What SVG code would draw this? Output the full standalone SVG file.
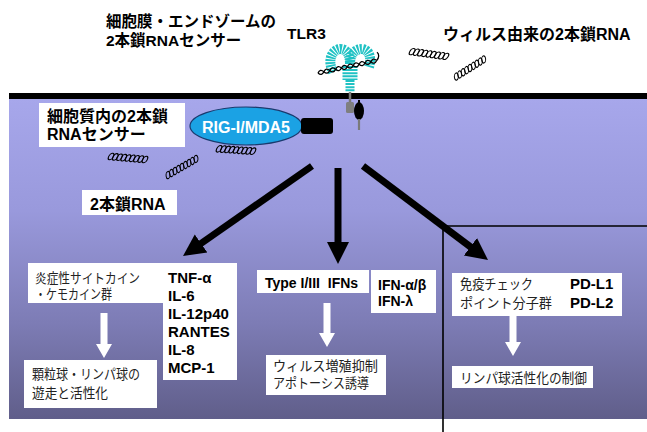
<svg xmlns="http://www.w3.org/2000/svg" xmlns:xlink="http://www.w3.org/1999/xlink" width="647" height="432" viewBox="0 0 647 432">
  <style>
    .jb { font-family: "Liberation Sans", "Noto Sans CJK JP", sans-serif; font-weight: bold; fill: #000; }
    .jr { font-family: "Liberation Sans", "Noto Sans CJK JP", sans-serif; font-weight: normal; fill: #222; font-size: 13.5px; }
    .lst { font-family: "Liberation Sans", "Noto Sans CJK JP", sans-serif; font-weight: bold; fill: #000; font-size: 15px; }
    .box { fill: #fff; }
    .big { stroke: #000; stroke-width: 7; fill: none; }
    .warr { fill: #fff; }
    .coil ellipse { fill: none; stroke: #000; stroke-width: 1.1; }
    .rna { fill: none; stroke: #000; stroke-width: 1.3; }
    .lrr { fill: none; stroke: #1fc2c4; stroke-dasharray: 1.8 1; }
  </style>
  <defs>
    <linearGradient id="cyto" x1="0" y1="0" x2="0" y2="1">
      <stop offset="0" stop-color="#a7a7eb"/>
      <stop offset="0.35" stop-color="#9999dc"/>
      <stop offset="0.7" stop-color="#7d7cb5"/>
      <stop offset="1" stop-color="#605e8a"/>
    </linearGradient>
    <marker id="head" markerUnits="userSpaceOnUse" markerWidth="24" markerHeight="24" viewBox="0 -12 24 24" refX="8" refY="0" orient="auto">
      <path d="M0,-11 L22,0 L0,11 Z" fill="#000"/>
    </marker>
    <!-- single-stranded RNA coil -->
    <g id="coil" class="coil">
      <g transform="skewX(-20)">
        <ellipse cx="-17" cy="0" rx="2.3" ry="3.4"/>
        <ellipse cx="-12.75" cy="0" rx="2.3" ry="3.4"/>
        <ellipse cx="-8.5" cy="0" rx="2.3" ry="3.4"/>
        <ellipse cx="-4.25" cy="0" rx="2.3" ry="3.4"/>
        <ellipse cx="0" cy="0" rx="2.3" ry="3.4"/>
        <ellipse cx="4.25" cy="0" rx="2.3" ry="3.4"/>
        <ellipse cx="8.5" cy="0" rx="2.3" ry="3.4"/>
        <ellipse cx="12.75" cy="0" rx="2.3" ry="3.4"/>
        <ellipse cx="17" cy="0" rx="2.3" ry="3.4"/>
      </g>
    </g>
  </defs>

  <!-- cytoplasm and membrane -->
  <rect x="9" y="98" width="638" height="321" fill="url(#cyto)"/>
  <rect x="9" y="93" width="638" height="6" fill="#000"/>

  <!-- compartment outline on the right -->
  <path d="M443,432 V226 H647" fill="none" stroke="#000" stroke-width="1.6"/>

  <!-- headings outside the cell -->
  <g id="membrane-sensor-label">
    <text class="jb" x="106" y="27" font-size="15.5">細胞膜・エンドゾームの</text>
    <text class="jb" x="106" y="46" font-size="15.5">2本鎖RNAセンサー</text>
  </g>
  <g id="tlr3-label">
    <text class="jb" x="287" y="39" font-size="15.5">TLR3</text>
  </g>
  <g id="viral-rna-label">
    <text class="jb" x="443" y="40" font-size="16">ウィルス由来の2本鎖RNA</text>
  </g>

  <!-- TLR3 receptor: two leucine-rich-repeat lobes on a ribbed stem -->
  <g id="tlr3">
    <path class="lrr" stroke-width="10" d="M333,72 C327,60 332,50 340,49 C347,49 350,55 350,64"/>
    <path class="lrr" stroke-width="10" d="M350,64 C350,54 355,49 362,49 C369,50 372,57 369,67"/>
    <line x1="350" y1="66" x2="350" y2="80" stroke="#1fc2c4" stroke-width="15" stroke-dasharray="2 1.1"/>
    <line x1="350" y1="80" x2="350" y2="92" stroke="#1fc2c4" stroke-width="9" stroke-dasharray="2 1.1"/>
    <line x1="350" y1="92" x2="350" y2="103" stroke="#7a7a7a" stroke-width="2.5"/>
    <rect x="346" y="102" width="8" height="11" rx="1.5" fill="#7f7f7f"/>
    <line x1="359" y1="100" x2="359" y2="104" stroke="#000" stroke-width="2"/>
    <ellipse cx="359" cy="111" rx="5" ry="9" fill="#000"/>
    <line x1="359" y1="119" x2="359" y2="130" stroke="#7a7a7a" stroke-width="2.2"/>
  </g>

  <!-- double-stranded RNA bound to TLR3 -->
  <g id="dsrna-tlr3" transform="translate(318,73) rotate(-12)">
    <path class="rna" d="M0,0 Q3,-4 6,0 T12,0 T18,0 T24,0 T30,0 T36,0 T42,0 T48,0 T54,0 T60,0"/>
    <path class="rna" d="M0,0 Q3,4 6,0 T12,0 T18,0 T24,0 T30,0 T36,0 T42,0 T48,0 T54,0 T60,0"/>
    <path class="rna" d="M60,0 C63,-2 64,-6 62,-8"/>
  </g>

  <!-- free RNA coils -->
  <use xlink:href="#coil" href="#coil" transform="translate(429,54) rotate(8)"/>
  <use xlink:href="#coil" href="#coil" transform="translate(470,68) rotate(-32) scale(0.95)"/>
  <use xlink:href="#coil" href="#coil" transform="translate(128,158) rotate(5)"/>
  <use xlink:href="#coil" href="#coil" transform="translate(182,167) rotate(-30) scale(0.95)"/>
  <use xlink:href="#coil" href="#coil" transform="translate(236,150) rotate(4)"/>

  <!-- cytosolic sensor label -->
  <g id="cytosolic-sensor-label">
    <rect class="box" x="39" y="103" width="146" height="44"/>
    <text class="jb" x="47" y="122" font-size="16">細胞質内の2本鎖</text>
    <text class="jb" x="47" y="140" font-size="16">RNAセンサー</text>
  </g>

  <!-- RIG-I / MDA5 -->
  <g id="rig-i-mda5">
    <ellipse cx="246" cy="126" rx="56" ry="19" fill="#1ba2e4" stroke="#1a3a6e" stroke-width="1.2"/>
    <text x="246" y="133" text-anchor="middle" font-family="Liberation Sans, sans-serif" font-weight="bold" font-size="16" fill="#fff">RIG-I/MDA5</text>
    <rect x="301" y="118" width="32" height="16" rx="3" fill="#000"/>
  </g>

  <g id="dsrna-label">
    <rect class="box" x="82" y="190" width="95" height="25"/>
    <text class="jb" x="90" y="210" font-size="16">2本鎖RNA</text>
  </g>

  <!-- signalling arrows -->
  <g id="connectors">
    <line class="big" x1="312" y1="166" x2="194.5" y2="248" marker-end="url(#head)"/>
    <line class="big" x1="338" y1="168" x2="338" y2="250" marker-end="url(#head)"/>
    <line class="big" x1="363" y1="166" x2="476.8" y2="251.6" marker-end="url(#head)"/>
    <polygon class="warr" points="100.5,313 107.5,313 107.5,344 112,344 104,358 96,344 100.5,344"/>
    <polygon class="warr" points="323.5,303 330.5,303 330.5,333 335,333 327,347 319,333 323.5,333"/>
    <polygon class="warr" points="509.5,316 516.5,316 516.5,342 521,342 513,356 505,342 509.5,342"/>
  </g>

  <!-- inflammatory branch -->
  <g id="cytokines">
    <rect class="box" x="28" y="263" width="209" height="40"/>
    <rect class="box" x="163" y="263" width="74" height="117"/>
    <text class="jr" x="35" y="283" textLength="105" lengthAdjust="spacingAndGlyphs">炎症性サイトカイン</text>
    <text class="jr" x="35" y="299" textLength="77" lengthAdjust="spacingAndGlyphs">・ケモカイン群</text>
    <text class="lst" x="168" y="283">TNF-α</text>
    <text class="lst" x="168" y="301">IL-6</text>
    <text class="lst" x="168" y="319">IL-12p40</text>
    <text class="lst" x="168" y="337">RANTES</text>
    <text class="lst" x="168" y="355">IL-8</text>
    <text class="lst" x="168" y="373">MCP-1</text>
  </g>
  <g id="leukocyte-recruitment">
    <rect class="box" x="24" y="360" width="133" height="48"/>
    <text class="jr" x="32" y="379" textLength="108" lengthAdjust="spacingAndGlyphs">顆粒球・リンパ球の</text>
    <text class="jr" x="32" y="398" textLength="76" lengthAdjust="spacingAndGlyphs">遊走と活性化</text>
  </g>

  <!-- interferon branch -->
  <g id="ifn-type">
    <rect class="box" x="257" y="270" width="112" height="23"/>
    <text class="jb" x="265" y="288" font-size="14" style="white-space:pre">Type I/III  IFNs</text>
  </g>
  <g id="ifn-list">
    <rect class="box" x="371" y="270" width="65" height="43"/>
    <text class="jb" x="378" y="290" font-size="14">IFN-α/β</text>
    <text class="jb" x="378" y="306" font-size="14">IFN-λ</text>
  </g>
  <g id="antiviral-effect">
    <rect class="box" x="266" y="355" width="120" height="40"/>
    <text class="jr" x="273" y="371" textLength="105" lengthAdjust="spacingAndGlyphs">ウィルス増殖抑制</text>
    <text class="jr" x="273" y="388" textLength="96" lengthAdjust="spacingAndGlyphs">アポトーシス誘導</text>
  </g>

  <!-- checkpoint branch -->
  <g id="checkpoint">
    <rect class="box" x="452" y="273" width="170" height="43"/>
    <text class="jr" x="460" y="289" textLength="73" lengthAdjust="spacingAndGlyphs">免疫チェック</text>
    <text class="jr" x="460" y="308" textLength="92" lengthAdjust="spacingAndGlyphs">ポイント分子群</text>
    <text class="lst" x="570" y="289">PD-L1</text>
    <text class="lst" x="570" y="308">PD-L2</text>
  </g>
  <g id="lymphocyte-control">
    <rect class="box" x="452" y="366" width="141" height="22"/>
    <text class="jr" x="460" y="383" textLength="127" lengthAdjust="spacingAndGlyphs">リンパ球活性化の制御</text>
  </g>
</svg>
